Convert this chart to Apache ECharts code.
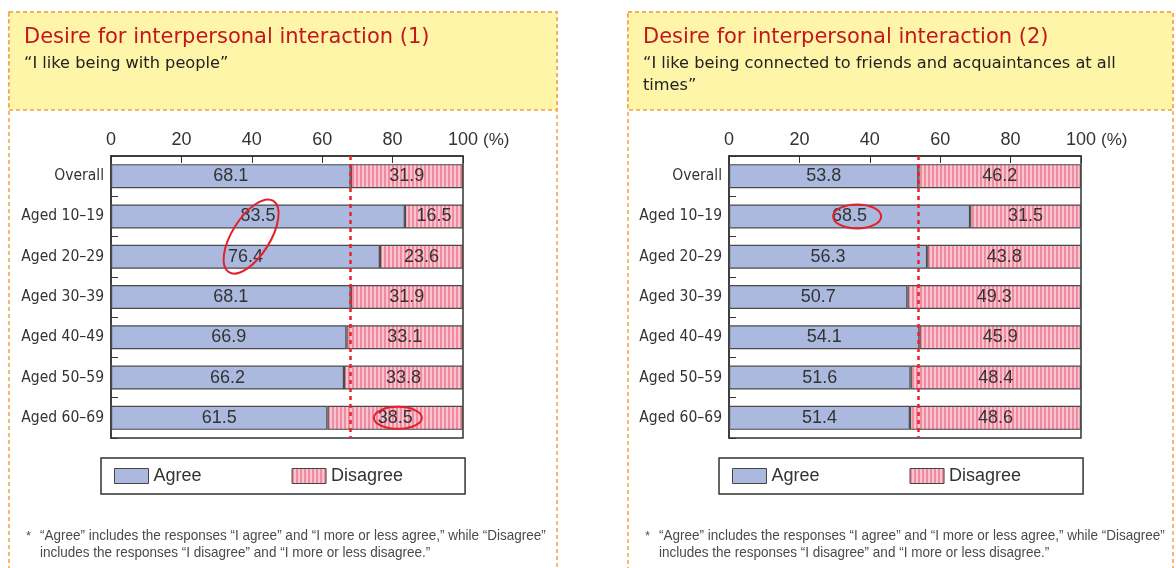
<!DOCTYPE html>
<html>
<head>
<meta charset="utf-8">
<script src="https://cdn.jsdelivr.net/npm/echarts@6/dist/echarts.min.js"></script>
<style>
html, body { margin: 0; padding: 0; background: #fff; }
#main { width: 1176px; height: 568px; }
</style>
</head>
<body>
<div id="main"></div>
<script>
var categories = ['Overall', 'Aged 10–19', 'Aged 20–29', 'Aged 30–39', 'Aged 40–49', 'Aged 50–59', 'Aged 60–69'];
var agree1 = [68.1, 83.5, 76.4, 68.1, 66.9, 66.2, 61.5];
var disagree1 = [31.9, 16.5, 23.6, 31.9, 33.1, 33.8, 38.5];
var agree2 = [53.8, 68.5, 56.3, 50.7, 54.1, 51.6, 51.4];
var disagree2 = [46.2, 31.5, 43.8, 49.3, 45.9, 48.4, 48.6];
var xTicks = [0, 20, 40, 60, 80, 100];

var FONT = '"Liberation Sans", Arial, sans-serif';
var WIDE = '"DejaVu Sans", sans-serif';
var NARROW = '"DejaVu Sans Condensed", monospace';

function stripeCanvas() {
    var c = document.createElement('canvas');
    c.width = 4; c.height = 4;
    var ctx = c.getContext('2d');
    ctx.fillStyle = '#fbc5d0';
    ctx.fillRect(0, 0, 4, 4);
    ctx.fillStyle = '#ef8aa0';
    ctx.fillRect(0, 0, 2, 4);
    return c;
}
var stripeFill = { image: stripeCanvas(), repeat: 'repeat' };

function makeGrid(left) {
    return { left: left, top: 156, width: 352, height: 282, show: true,
             borderColor: '#333', borderWidth: 1.5, backgroundColor: '#fff' };
}

function makeX(idx) {
    return {
        type: 'value', gridIndex: idx, position: 'top',
        min: xTicks[0], max: xTicks[xTicks.length - 1], interval: 20,
        name: '(%)', nameLocation: 'end', nameGap: 20,
        nameTextStyle: { fontSize: 17, color: '#333', fontFamily: FONT, verticalAlign: 'bottom', padding: [0, 0, 7, 0] },
        axisLine: { show: true, lineStyle: { color: '#333', width: 1.5 } },
        axisTick: { show: true, inside: true, length: 7, lineStyle: { color: '#333' } },
        axisLabel: { fontSize: 18, color: '#333', margin: 7, fontFamily: FONT },
        splitLine: { show: false }
    };
}

function makeY(idx) {
    return {
        type: 'category', gridIndex: idx, inverse: true, data: categories,
        axisLine: { show: true, lineStyle: { color: '#333', width: 1.5 } },
        axisTick: { show: true, inside: true, length: 7, lineStyle: { color: '#333' } },
        axisLabel: { fontSize: 15.5, color: '#333', margin: 7, fontFamily: NARROW }
    };
}

function makeBar(name, data, idx, fill, refValue) {
    var s = {
        name: name, type: 'bar', stack: 'total' + idx,
        xAxisIndex: idx, yAxisIndex: idx, data: data, barWidth: 24,
        itemStyle: { color: fill, borderColor: '#4a4a4a', borderWidth: 1.2 },
        label: { show: true, position: 'inside', fontSize: 18, color: '#333', fontFamily: FONT,
                 formatter: function (p) { return p.value.toFixed(1); } },
        emphasis: { disabled: true }
    };
    if (refValue != null) {
        s.markLine = {
            silent: true, symbol: 'none', label: { show: false },
            lineStyle: { color: '#e8232b', type: [4, 4], width: 2.5 },
            data: [{ xAxis: refValue }]
        };
    }
    return s;
}

function makeLegend(left) {
    return {
        left: left, top: 458, data: ['Agree', 'Disagree'], icon: 'rect',
        borderColor: '#333', borderWidth: 1.5, padding: [9, 62, 9, 13],
        itemWidth: 34, itemHeight: 15, itemGap: 90,
        itemStyle: { borderColor: '#444', borderWidth: 1 },
        textStyle: { fontSize: 18, color: '#333', fontFamily: FONT },
        selectedMode: false
    };
}

function panel(x, w, title, subLines) {
    var els = [
        { type: 'rect', shape: { x: x, y: 12, width: w, height: 620 }, silent: true,
          style: { fill: 'none', stroke: '#f3a04c', lineWidth: 1.5, lineDash: [4, 3] } },
        { type: 'rect', shape: { x: x, y: 12, width: w, height: 98 }, silent: true,
          style: { fill: '#fff5a8', stroke: '#f3a04c', lineWidth: 1.5, lineDash: [4, 3] } },
        { type: 'text', x: x + 15, y: 38, silent: true,
          style: { text: title, fill: '#c4161f', fontSize: 21, fontFamily: WIDE, verticalAlign: 'middle' } }
    ];
    subLines.forEach(function (t, i) {
        els.push({ type: 'text', x: x + 15, y: 64 + i * 22, silent: true,
                   style: { text: t, fill: '#222', fontSize: 16.2, fontFamily: WIDE, verticalAlign: 'middle' } });
    });
    els.push({ type: 'text', x: x + 17, y: 536, silent: true,
               style: { text: '*', fill: '#555', fontSize: 13, fontFamily: FONT, verticalAlign: 'middle' } });
    els.push({ type: 'text', x: x + 31, y: 536, silent: true, scaleX: 0.9,
               style: { text: '“Agree” includes the responses “I agree” and “I more or less agree,” while “Disagree”',
                        fill: '#4a4a4a', fontSize: 15, fontFamily: FONT, verticalAlign: 'middle' } });
    els.push({ type: 'text', x: x + 31, y: 553, silent: true, scaleX: 0.9,
               style: { text: 'includes the responses “I disagree” and “I more or less disagree.”',
                        fill: '#4a4a4a', fontSize: 15, fontFamily: FONT, verticalAlign: 'middle' } });
    return els;
}

var chart = echarts.init(document.getElementById('main'));
var option = {
    backgroundColor: '#fff',
    animation: false,
    grid: [makeGrid(111), makeGrid(729)],
    xAxis: [makeX(0), makeX(1)],
    yAxis: [makeY(0), makeY(1)],
    legend: [makeLegend(101), makeLegend(719)],
    series: [
        makeBar('Agree', agree1, 0, '#abb9de', agree1[0]),
        makeBar('Disagree', disagree1, 0, stripeFill),
        makeBar('Agree', agree2, 1, '#abb9de', agree2[0]),
        makeBar('Disagree', disagree2, 1, stripeFill)
    ],
    graphic: panel(9, 548, 'Desire for interpersonal interaction (1)', ['“I like being with people”'])
        .concat(panel(628, 545, 'Desire for interpersonal interaction (2)',
            ['“I like being connected to friends and acquaintances at all', 'times”']))
};
chart.setOption(option);

// red annotation ellipses, placed from data coordinates
function px(grid, value, catIndex) {
    return chart.convertToPixel({ xAxisIndex: grid, yAxisIndex: grid }, [value, catIndex]);
}
var redStroke = { fill: 'none', stroke: '#e5202a', lineWidth: 2 };
var c1a = px(0, 39.8, 1), c1b = px(0, 39.8, 2);
var c2 = px(0, 81.5, 6);
var c3 = px(1, 36.4, 1);
var extra = [
    { type: 'ellipse', silent: true, z: 100, x: c1a[0], y: (c1a[1] + c1b[1]) / 2, rotation: 58 * Math.PI / 180,
      shape: { cx: 0, cy: 0, rx: 42, ry: 19 }, style: redStroke },
    { type: 'ellipse', silent: true, z: 100, shape: { cx: c2[0], cy: c2[1], rx: 24, ry: 11 }, style: redStroke },
    { type: 'ellipse', silent: true, z: 100, shape: { cx: c3[0], cy: c3[1], rx: 24, ry: 12 }, style: redStroke }
];
chart.setOption({ graphic: option.graphic.concat(extra) });
</script>
</body>
</html>
